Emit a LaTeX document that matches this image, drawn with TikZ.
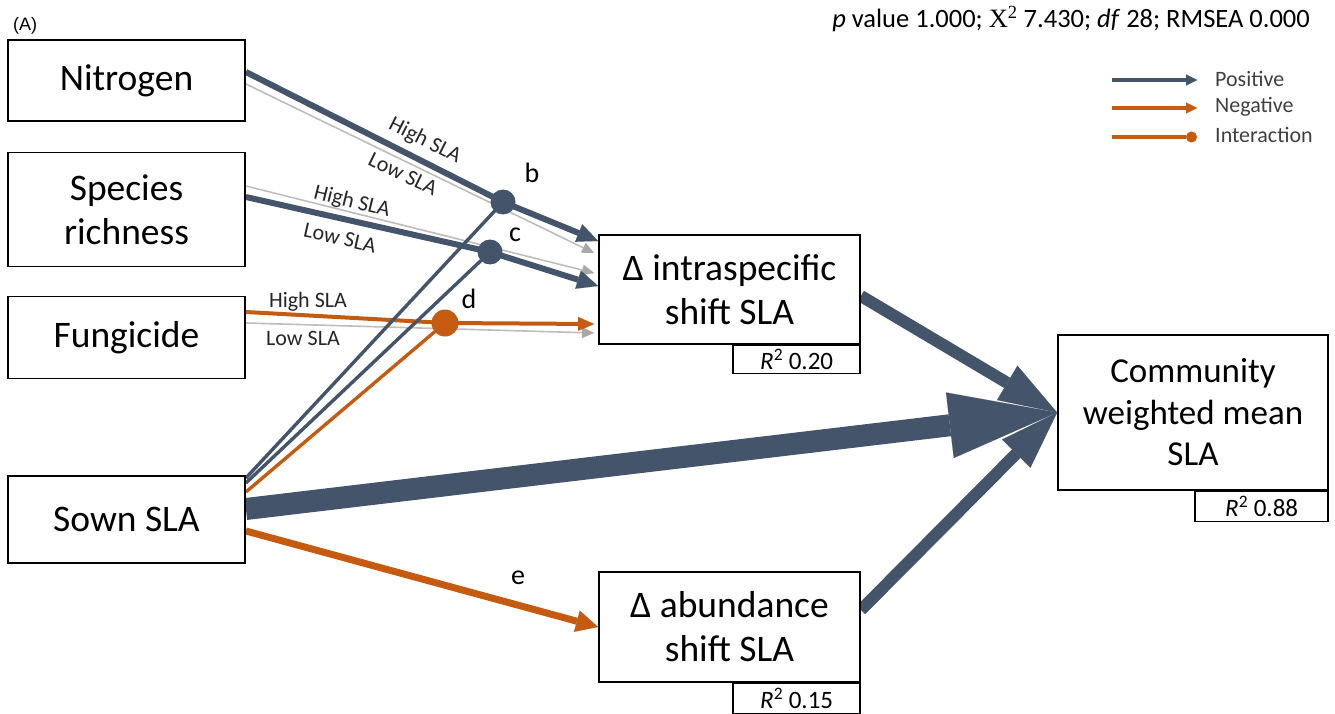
\documentclass[tikz,border=0pt]{standalone}
\usepackage{fontspec}
\setmainfont{Carlito}
\newfontfamily\tnr{Liberation Serif}
\newfontfamily\arialf{Liberation Sans}
\usetikzlibrary{arrows.meta,calc}
\definecolor{navy}{HTML}{44546A}
\definecolor{rust}{HTML}{C55A11}
\definecolor{lgray}{HTML}{BDBDBD}
\definecolor{hgray}{HTML}{A8A8A8}
\definecolor{legtext}{HTML}{404040}
\pgfdeclarelayer{bg}
\pgfsetlayers{bg,main}
\begin{document}
\begin{tikzpicture}[x=1pt,y=-1pt,
  box/.style={draw=black, line width=1.8pt, fill=white, inner sep=0pt, align=center, font=\fontsize{37.5}{44}\selectfont},
  rbox/.style={draw=black, line width=1.5pt, fill=white, inner sep=0pt, anchor=north east, font=\fontsize{25}{30}\selectfont},
  lab/.style={font=\fontsize{22}{26}\selectfont, inner sep=0pt, text=black!85},
  letter/.style={font=\fontsize{28}{32}\selectfont, inner sep=0pt},
  dotn/.style={circle, inner sep=0pt, minimum size=25pt},
  leg/.style={font=\fontsize{22}{26}\selectfont, inner sep=0pt, text=legtext, anchor=west},
  posthick/.style={draw=navy, line width=6pt, line join=round, -{Triangle[length=21pt,width=19pt,line width=0.01pt]}},
  grayarr/.style={draw=lgray, line width=1.6pt, -{Triangle[length=12pt,width=11pt,line width=0.01pt,fill=hgray]}},
  negmid/.style={draw=rust, line width=4pt, line join=round, -{Triangle[length=16pt,width=14pt,line width=0.01pt]}},
  inter/.style={line width=3.4pt},
  bigarr/.style={draw=navy, line width=12pt, -{Triangle[length=58pt,width=40pt,line width=0.01pt]}},
]
\useasboundingbox (0,0) rectangle (1335,714);

% boxes
\node[box, minimum width=237pt, minimum height=81pt] (nit) at (126.5,80.5) {Nitrogen};
\node[box, minimum width=237pt, minimum height=114pt] (spr) at (126.5,209.5) {Species\\richness};
\node[box, minimum width=237pt, minimum height=82pt] (fun) at (126.5,337.5) {Fungicide};
\node[box, minimum width=237pt, minimum height=87pt] (sow) at (126.5,519.5) {Sown SLA};
\node[box, minimum width=261pt, minimum height=109pt] (intra) at (729.5,289.5) {Δ intraspecific\\shift SLA};
\node[box, minimum width=261pt, minimum height=110pt] (abund) at (729.5,627) {Δ abundance\\shift SLA};
\node[box, minimum width=270pt, minimum height=155pt, font=\fontsize{35}{41.5}\selectfont] (cwm) at (1193,412.5) {Community\\weighted mean\\SLA};

\node[rbox, minimum width=127pt, minimum height=28pt] (r1) at (intra.south east) {\textit{R}\textsuperscript{2} 0.20};
\node[rbox, minimum width=133pt, minimum height=30pt] (r2) at (cwm.south east) {\textit{R}\textsuperscript{2} 0.88};
\node[rbox, minimum width=127pt, minimum height=30pt] (r3) at (abund.south east) {\textit{R}\textsuperscript{2} 0.15};

% interaction dots
\node[dotn, fill=navy] (b) at (503,202) {};
\node[dotn, fill=navy] (c) at (490,252) {};
\node[dotn, fill=rust, minimum size=27pt] (d) at (445,323) {};

\begin{pgfonlayer}{bg}
% nitrogen
\draw[grayarr] ([yshift=-3.5pt]nit.east) -- ([xshift=-4pt,yshift=36.5pt]intra.west);
\draw[posthick] ([yshift=8.5pt]nit.east) -- (b.center) -- ([yshift=48.5pt]intra.west);
% species richness
\draw[grayarr] ([yshift=23.5pt]spr.east) -- ([xshift=-4pt,yshift=16.5pt]intra.west);
\draw[posthick] ([yshift=12.5pt]spr.east) -- (c.center) -- ([yshift=3.5pt]intra.west);
% fungicide
\draw[grayarr] ([yshift=14.5pt]fun.east) -- ([xshift=-4pt,yshift=-43.5pt]intra.west);
\draw[negmid] ([yshift=25.5pt]fun.east) -- (d.center) -- ([xshift=-4pt,yshift=-34.5pt]intra.west);
% sown SLA interaction lines
\draw[inter, draw=navy] ([yshift=41.5pt]sow.east) -- (b.center);
\draw[inter, draw=navy] ([yshift=36.5pt]sow.east) -- (c.center);
\draw[inter, draw=rust] ([yshift=27.5pt]sow.east) -- (d.center);
% sown SLA main paths
\draw[draw=navy, line width=22pt, -{Triangle[length=108pt,width=66pt,line width=0.01pt]}] ([yshift=10.5pt]sow.east) -- (cwm.west);
\draw[draw=rust, line width=7pt, -{Triangle[length=22pt,width=22pt,line width=0.01pt]}] ([yshift=-11.5pt]sow.east) -- (abund.west);
% to CWM
\draw[bigarr] ([yshift=-6.5pt]intra.east) -- (cwm.west);
\draw[bigarr] ([yshift=17pt]abund.east) -- (cwm.west);
\end{pgfonlayer}

% line labels
\node[lab, rotate=-26.7] (nhi) at (425,141) {High SLA};
\node[lab, rotate=-25.8] (nlo) at (403,174) {Low SLA};
\node[lab, rotate=-14] (shi) at (352,202) {High SLA};
\node[lab, rotate=-12.7] (slo) at (340,238) {Low SLA};
\node[lab] (fhi) at (308,302) {High SLA};
\node[lab] (flo) at (303,338) {Low SLA};

\node[letter] (lb) at (532,173) {b};
\node[letter] (lc) at (515,235) {c};
\node[letter] (ld) at (469,299) {d};
\node[letter] (le) at (518,578) {e};

% header
\node[anchor=base west, font=\arialf\fontsize{18}{21}\selectfont, inner sep=0pt] (tag) at (13,31) {(A)};
\node[anchor=base east, font=\fontsize{26.5}{30}\selectfont, inner sep=0pt] (stats) at (1310,28) {\textit{p} value 1.000; {\tnr X\textsuperscript{2}} 7.430; \textit{df} 28; RMSEA 0.000};

% legend
\node[leg] (lpos) at (1215,79) {Positive};
\node[leg] (lneg) at (1215,107) {Negative};
\node[leg] (lint) at (1215,135) {Interaction};
\coordinate (lp1) at (1112,80);
\coordinate (ln1) at (1112,108);
\coordinate (li1) at (1112,137);
\draw[navy, line width=3.5pt, -{Triangle[length=11pt,width=11pt,line width=0.01pt]}] (lp1) -- (lp1 -| 1197,0);
\draw[rust, line width=3.5pt, -{Triangle[length=11pt,width=11pt,line width=0.01pt]}] (ln1) -- (ln1 -| 1197,0);
\draw[rust, line width=3.5pt, -{Circle[length=11pt,line width=0.01pt]}] (li1) -- (li1 -| 1197,0);
\end{tikzpicture}
\end{document}
